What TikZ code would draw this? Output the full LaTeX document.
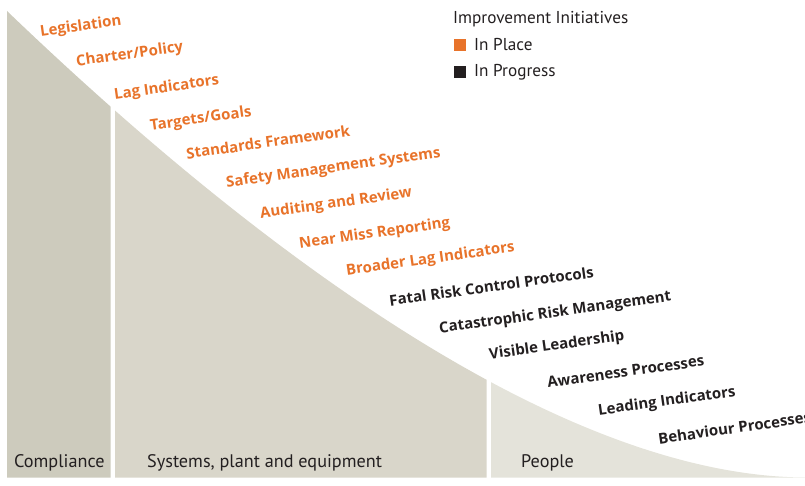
\documentclass[tikz,border=0pt]{standalone}
\usepackage{fontspec}
\setmainfont{PT Sans}
\newfontfamily\labfont{Open Sans}
\definecolor{orng}{HTML}{E8732A}
\definecolor{ink}{HTML}{231F20}
\definecolor{compc}{HTML}{CDCBBD}
\definecolor{sysc}{HTML}{D9D6CA}
\definecolor{peoc}{HTML}{E4E3DA}
\tikzset{
  lab/.style={font=\labfont\fontsize{15}{16}\selectfont\bfseries, rotate=8, anchor=west, inner sep=0pt, yshift=-1.5pt},
  placed/.style={lab, text=orng},
  progress/.style={lab, text=ink},
  band/.style={font=\fontsize{18.2}{20}\selectfont, text=ink, anchor=base west, inner sep=0pt},
  legtext/.style={font=\fontsize{17.2}{19}\selectfont, text=ink, anchor=west, inner sep=0pt},
  legbox/.style={minimum size=12pt, inner sep=0pt, draw=none}
}
\newcommand{\curvepath}{(7,11) .. controls (257,251) and (560,476) .. (805,477.5) -- (805,477.5) -- (7,477.5) -- cycle}
\begin{document}
\begin{tikzpicture}[x=1pt,y=-1pt]
\useasboundingbox (0,0) rectangle (805,486);
\begin{scope}
  \clip (7,0) rectangle (110.6,486);
  \fill[compc] \curvepath;
\end{scope}
\begin{scope}
  \clip (115,0) rectangle (486.5,486);
  \fill[sysc] \curvepath;
\end{scope}
\begin{scope}
  \clip (491,0) rectangle (805,486);
  \fill[peoc] \curvepath;
\end{scope}
% band labels
\node[band] (comp) at (14,467) {Compliance};
\node[band] (sys) at (147,467) {Systems, plant and equipment};
\node[band] (peo) at (521,467) {People};
% legend
\node[legtext] (legt) at (453,19) {Improvement Initiatives};
\node[legbox, fill=orng] (sq1) at (460,45) {};
\node[legtext] (l1) at (474,45) {In Place};
\node[legbox, fill=ink] (sq2) at (460,72) {};
\node[legtext] (l2) at (474,72) {In Progress};
% initiatives
\node[placed] (a1) at (40,31) {Legislation};
\node[placed] (a2) at (76,61) {Charter/Policy};
\node[placed] (a3) at (114,94) {Lag Indicators};
\node[placed] (a4) at (150,125) {Targets/Goals};
\node[placed] (a5) at (186,152) {Standards Framework};
\node[placed] (a6) at (226,182) {Safety Management Systems};
\node[placed] (a7) at (260,213) {Auditing and Review};
\node[placed] (a8) at (299,243) {Near Miss Reporting};
\node[placed] (a9) at (346,270) {Broader Lag Indicators};
\node[progress] (b1) at (389,299) {Fatal Risk Control Protocols};
\node[progress] (b2) at (439,328) {Catastrophic Risk Management};
\node[progress] (b3) at (489,354) {Visible Leadership};
\node[progress] (b4) at (547,381) {Awareness Processes};
\node[progress] (b5) at (598,410) {Leading Indicators};
\node[progress] (b6) at (658,437) {Behaviour Processes};
\end{tikzpicture}
\end{document}
